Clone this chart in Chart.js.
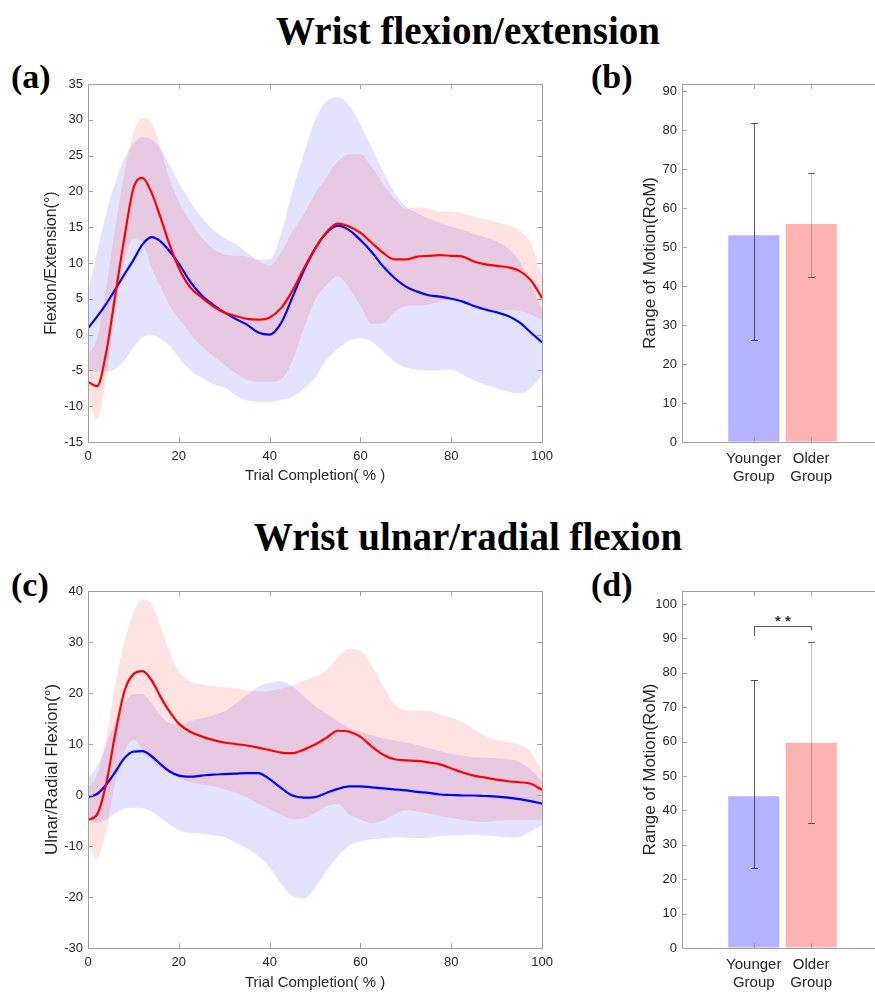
<!DOCTYPE html>
<html>
<head>
<meta charset="utf-8">
<script src="https://cdn.jsdelivr.net/npm/chart.js@4.4.1/dist/chart.umd.min.js"></script>
<style>
  body { margin: 0; background: #fff; overflow: hidden; }
  #page { position: relative; width: 875px; height: 992px; overflow: hidden; background: #fff; }
  canvas { position: absolute; }
  .title { position: absolute; left: 0; width: 936px; text-align: center; line-height: 1;
           font: bold 39px "Liberation Serif", "Times New Roman", serif; color: #000; }
  .lab { position: absolute; line-height: 1; font: bold 34px "Liberation Serif", "Times New Roman", serif; color: #000; }
</style>
</head>
<body>
<div id="page">
  <div class="title" style="top:8px">Wrist flexion/extension</div>
  <div class="title" style="top:514px">Wrist ulnar/radial flexion</div>
  <div class="lab" style="left:11px;top:58px">(a)</div>
  <div class="lab" style="left:591px;top:58px">(b)</div>
  <div class="lab" style="left:11px;top:566px">(c)</div>
  <div class="lab" style="left:591px;top:566px">(d)</div>
  <canvas id="chartA" width="560" height="430" style="left:0;top:60px"></canvas>
  <canvas id="chartB" width="310" height="430" style="left:580px;top:60px"></canvas>
  <canvas id="chartC" width="560" height="432" style="left:0;top:560px"></canvas>
  <canvas id="chartD" width="310" height="432" style="left:580px;top:560px"></canvas>
</div>
<script>
// trial completion (%) sample positions shared by every curve
const T = [0, 2, 4, 6, 8, 10, 12, 14, 16, 18, 20, 22.5, 25, 27.5, 30, 32.5, 35, 37.5, 40, 42.5, 45, 47.5,
  50, 52.5, 55, 57.5, 60, 62.5, 65, 67.5, 70, 72.5, 75, 77.5, 80, 82.5, 85, 87.5, 90, 92.5, 95, 97.5, 100];

// (a) flexion/extension
const flexYoungMean = [0.9, 2.5, 4.3, 6.3, 8.4, 10.4, 12.6, 13.6, 13.0, 11.6, 9.9, 7.4, 5.5, 4.2, 3.1, 2.2, 1.4, 0.3, 0.0, 1.6, 5.2, 8.9,
  12.0, 14.2, 15.2, 14.6, 13.2, 11.5, 9.5, 7.9, 6.7, 6.0, 5.5, 5.3, 5.0, 4.6, 4.0, 3.5, 3.1, 2.6, 1.7, 0.3, -1.1];
const flexOldMean = [-6.6, -7.2, -2.5, 5.5, 13.5, 20.4, 21.9, 19.8, 16.3, 12.5, 9.3, 6.6, 5.2, 4.0, 3.1, 2.6, 2.2, 2.1, 2.4, 3.7, 6.1, 9.2,
  12.0, 14.3, 15.5, 15.1, 14.2, 12.8, 11.4, 10.5, 10.5, 10.9, 11.0, 11.1, 11.0, 10.9, 10.2, 9.8, 9.6, 9.4, 8.9, 7.6, 5.1];
const flexYoungUp = [6.0, 11.5, 17.0, 21.2, 24.6, 26.7, 27.6, 27.2, 26.0, 23.6, 21.2, 18.6, 16.4, 14.7, 13.5, 12.7, 11.5, 10.5, 10.5, 14.1, 20.0, 25.2,
  30.0, 32.6, 33.2, 32.0, 29.3, 26.1, 22.8, 19.8, 17.9, 17.0, 16.2, 15.6, 15.1, 14.6, 14.1, 13.6, 13.0, 12.0, 10.3, 7.0, 3.5];
const flexYoungLo = [-5.0, -5.2, -5.2, -4.8, -3.6, -1.8, -0.4, -0.1, -0.6, -1.6, -3.2, -5.0, -6.0, -6.9, -7.4, -8.5, -9.2, -9.4, -9.4, -9.1, -8.7, -7.6,
  -6.0, -3.5, -2.0, -0.9, -0.5, -1.0, -2.4, -3.8, -4.6, -4.9, -5.0, -5.0, -4.9, -5.6, -6.4, -7.0, -7.5, -8.0, -8.2, -7.5, -5.6];
const flexOldUp = [-2.8, -0.5, 6.5, 15.0, 22.5, 28.2, 30.3, 29.6, 26.0, 21.6, 18.6, 15.8, 13.6, 12.0, 11.2, 11.0, 10.9, 10.3, 9.6, 11.5, 14.4, 16.8,
  19.7, 22.0, 24.2, 25.2, 25.2, 23.4, 21.0, 19.0, 17.6, 17.8, 17.6, 17.2, 17.2, 16.9, 16.5, 16.1, 15.7, 15.3, 14.6, 12.8, 8.1];
const flexOldLo = [-9.2, -11.8, -6.0, 3.5, 10.3, 13.3, 12.8, 9.3, 6.6, 4.0, 2.2, 0.1, -1.6, -3.0, -4.2, -5.4, -6.3, -6.6, -6.6, -6.3, -3.7, 0.8,
  4.8, 6.9, 8.1, 6.5, 4.0, 1.5, 1.6, 3.2, 4.0, 4.1, 4.2, 4.6, 5.0, 4.5, 3.8, 3.5, 3.4, 3.4, 3.3, 2.8, 2.0];

// (c) ulnar/radial flexion
const ulnYoungMean = [-0.4, 0.2, 2.0, 4.5, 7.2, 8.5, 8.6, 7.6, 6.0, 4.6, 3.8, 3.6, 3.8, 4.0, 4.1, 4.2, 4.3, 4.3, 3.1, 1.4, -0.1, -0.5,
  -0.4, 0.4, 1.2, 1.7, 1.7, 1.5, 1.3, 1.1, 0.9, 0.6, 0.4, 0.1, 0.0, -0.1, -0.1, -0.2, -0.3, -0.5, -0.8, -1.2, -1.7];
const ulnOldMean = [-4.9, -3.8, 2.2, 12.0, 20.3, 23.7, 24.3, 22.5, 19.2, 16.3, 14.0, 12.4, 11.5, 10.8, 10.3, 10.0, 9.7, 9.3, 8.8, 8.3, 8.2, 8.9,
  9.9, 11.2, 12.6, 12.4, 11.4, 9.5, 7.9, 7.0, 6.8, 6.7, 6.4, 6.0, 5.2, 4.4, 3.8, 3.4, 3.0, 2.7, 2.5, 2.2, 1.0];
const ulnYoungUp = [3.3, 5.7, 9.8, 14.5, 18.0, 19.8, 19.8, 18.0, 15.6, 14.0, 13.8, 14.5, 15.0, 15.6, 16.4, 17.9, 19.6, 21.2, 22.0, 22.3, 21.3, 19.4,
  17.4, 16.0, 14.5, 13.1, 12.4, 11.7, 11.1, 10.7, 10.3, 9.8, 9.2, 8.6, 8.1, 7.7, 7.4, 7.3, 7.2, 7.0, 6.5, 5.0, 2.6];
const ulnYoungLo = [-4.6, -5.5, -4.9, -3.6, -2.7, -2.5, -2.6, -3.3, -4.5, -5.8, -6.9, -7.4, -7.6, -7.9, -8.3, -9.4, -10.5, -12.0, -14.2, -17.4, -19.8, -20.3,
  -18.2, -14.9, -12.1, -9.9, -9.1, -8.7, -8.5, -8.3, -8.4, -8.5, -8.4, -8.1, -8.0, -7.9, -7.8, -7.9, -8.1, -8.4, -8.3, -7.1, -5.9];
const ulnOldUp = [1.5, 4.0, 11.0, 21.8, 30.0, 35.8, 38.4, 37.4, 33.0, 28.0, 24.3, 22.3, 21.7, 21.3, 21.1, 20.9, 20.6, 20.3, 20.4, 20.9, 21.5, 22.4,
  23.2, 24.4, 27.0, 28.7, 28.3, 25.3, 21.3, 17.8, 16.6, 16.5, 16.5, 15.8, 15.2, 14.2, 12.9, 11.6, 10.8, 10.3, 9.9, 8.5, 4.6];
const ulnOldLo = [-10.0, -12.5, -7.0, 2.5, 8.5, 10.8, 9.0, 6.8, 5.3, 4.2, 3.3, 2.5, 2.0, 1.7, 1.2, 0.5, -0.5, -1.7, -2.8, -3.9, -4.7, -4.6,
  -3.5, -2.2, -1.8, -3.8, -4.8, -5.5, -5.0, -3.8, -3.0, -3.2, -3.7, -4.1, -4.5, -4.9, -5.2, -5.3, -5.0, -4.9, -4.9, -4.9, -4.9];

// tick labels
const trialTicks = [0, 20, 40, 60, 80, 100];
const flexTicks = [-15, -10, -5, 0, 5, 10, 15, 20, 25, 30, 35];
const ulnTicks = [-30, -20, -10, 0, 10, 20, 30, 40];
const romTicksB = [0, 10, 20, 30, 40, 50, 60, 70, 80, 90];
const romTicksD = [0, 10, 20, 30, 40, 50, 60, 70, 80, 90, 100];

// (b) and (d) range of motion, mean with lower / upper error bar ends
const groups = [['Younger', 'Group'], ['Older', 'Group']];
const flexRom = [53.0, 55.9];
const flexRomLo = [26.2, 42.2];
const flexRomHi = [81.7, 69.1];
const ulnRom = [44.1, 59.7];
const ulnRomLo = [23.4, 36.4];
const ulnRomHi = [77.9, 88.9];
// significance bracket in (d): bar level, left / right leg ends, star level
const sigLevels = [93.7, 90.7, 92.4, 95.8];
const sigText = '* *';

const FONT = '"Liberation Sans", Arial, Helvetica, sans-serif';
const TXT = '#262626';
const AXIS = '#a0a0a0';

// matlab style box with inward ticks
const boxPlugin = {
  id: 'box',
  afterDatasetsDraw(chart) {
    const { ctx, chartArea: a, scales: { x, y } } = chart;
    ctx.save();
    ctx.strokeStyle = AXIS;
    ctx.lineWidth = 1;
    ctx.strokeRect(Math.round(a.left) + 0.5, Math.round(a.top) + 0.5, Math.round(a.right - a.left), Math.round(a.bottom - a.top));
    ctx.beginPath();
    x.ticks.forEach(t => {
      const px = Math.round(x.getPixelForValue(t.value)) + 0.5;
      ctx.moveTo(px, a.bottom); ctx.lineTo(px, a.bottom - 5);
      ctx.moveTo(px, a.top); ctx.lineTo(px, a.top + 5);
    });
    y.ticks.forEach(t => {
      const py = Math.round(y.getPixelForValue(t.value)) + 0.5;
      ctx.moveTo(a.left, py); ctx.lineTo(a.left + 5, py);
      ctx.moveTo(a.right, py); ctx.lineTo(a.right - 5, py);
    });
    ctx.stroke();
    ctx.restore();
  }
};

function tickList(arr) {
  return s => { s.ticks = arr.map(v => ({ value: v })); };
}

function bandChart(id, yM, oM, yUp, yLo, oUp, oLo, yTicks, yTitle, yTitleSize, pad, xH, xTitlePad) {
  const pts = arr => T.map((t, i) => ({ x: t, y: arr[i] }));
  const line = (arr, color) => ({
    data: pts(arr), borderColor: color, borderWidth: 2.2, pointRadius: 0, fill: false,
    cubicInterpolationMode: 'monotone'
  });
  const band = (arr, color, target) => ({
    data: pts(arr), borderWidth: 0, borderColor: 'transparent', pointRadius: 0,
    backgroundColor: color, fill: target, cubicInterpolationMode: 'monotone'
  });
  new Chart(document.getElementById(id), {
    type: 'line',
    data: {
      datasets: [
        line(oM, '#ff0000'),
        line(yM, '#0000ff'),
        band(oUp, 'rgba(255, 0, 0, 0.115)', 3),
        band(oLo, 'transparent', false),
        band(yUp, 'rgba(0, 0, 255, 0.11)', 5),
        band(yLo, 'transparent', false)
      ]
    },
    options: {
      responsive: false,
      animation: false,
      layout: { padding: pad },
      plugins: { legend: { display: false }, tooltip: { enabled: false } },
      scales: {
        x: {
          type: 'linear', min: 0, max: 100,
          afterBuildTicks: tickList(trialTicks),
          afterFit: s => { s.height = xH; },
          grid: { drawOnChartArea: false, drawTicks: false },
          border: { display: false },
          ticks: { padding: 7, color: TXT, font: { family: FONT, size: 13 } },
          title: { display: true, text: 'Trial Completion( % )', color: TXT, font: { family: FONT, size: 15 }, padding: { top: 0, bottom: xTitlePad } }
        },
        y: {
          min: yTicks[0], max: yTicks[yTicks.length - 1],
          afterBuildTicks: tickList(yTicks),
          afterFit: s => { s.width = 88; },
          grid: { drawOnChartArea: false, drawTicks: false },
          border: { display: false },
          ticks: { padding: 5, color: TXT, font: { family: FONT, size: 13 } },
          title: { display: true, text: yTitle, color: TXT, font: { family: FONT, size: yTitleSize }, padding: { top: 52 - yTitleSize * 0.6, bottom: 0 } }
        }
      }
    },
    plugins: [boxPlugin]
  });
}

function romChart(id, means, lo, hi, yTicks, yMax, pad, xH, sig) {
  const errPlugin = {
    id: 'err',
    afterDatasetsDraw(chart) {
      const { ctx, scales: { x, y } } = chart;
      ctx.save();
      ctx.lineWidth = 1;
      means.forEach((m, i) => {
        const px = Math.round(x.getPixelForValue(i + 1)) + 0.5;
        const pl = Math.round(y.getPixelForValue(lo[i])) + 0.5;
        const ph = Math.round(y.getPixelForValue(hi[i])) + 0.5;
        ctx.strokeStyle = i === 0 ? 'rgba(40, 40, 40, 0.75)' : 'rgba(40, 40, 40, 0.28)';
        ctx.beginPath(); ctx.moveTo(px, pl); ctx.lineTo(px, ph); ctx.stroke();
        ctx.strokeStyle = i === 0 ? 'rgba(40, 40, 40, 0.8)' : 'rgba(40, 40, 40, 0.7)';
        ctx.beginPath();
        ctx.moveTo(px - 3.5, pl); ctx.lineTo(px + 3.5, pl);
        ctx.moveTo(px - 3.5, ph); ctx.lineTo(px + 3.5, ph);
        ctx.stroke();
      });
      if (sig) {
        const x1 = Math.round(x.getPixelForValue(1)) + 0.5;
        const x2 = Math.round(x.getPixelForValue(2)) + 0.5;
        const yb = Math.round(y.getPixelForValue(sig[0])) + 0.5;
        ctx.strokeStyle = '#555';
        ctx.beginPath();
        ctx.moveTo(x1, y.getPixelForValue(sig[1])); ctx.lineTo(x1, yb);
        ctx.lineTo(x2, yb); ctx.lineTo(x2, y.getPixelForValue(sig[2]));
        ctx.stroke();
        ctx.fillStyle = '#333';
        ctx.font = 'bold 15px ' + FONT;
        ctx.textAlign = 'center';
        ctx.textBaseline = 'middle';
        ctx.fillText(sigText, (x1 + x2) / 2, y.getPixelForValue(sig[3]) + 3);
      }
      ctx.restore();
    }
  };
  new Chart(document.getElementById(id), {
    type: 'bar',
    data: {
      datasets: [{
        data: means.map((m, i) => ({ x: i + 1, y: m })),
        backgroundColor: ['rgba(178, 178, 255, 1)', 'rgba(255, 178, 178, 1)'],
        borderWidth: 0,
        barPercentage: 0.89,
        categoryPercentage: 1
      }]
    },
    options: {
      responsive: false,
      animation: false,
      layout: { padding: pad },
      plugins: { legend: { display: false }, tooltip: { enabled: false } },
      scales: {
        x: {
          type: 'linear', min: -0.25, max: 3.25, offset: false,
          afterBuildTicks: s => { s.ticks = groups.map((g, i) => ({ value: i + 1 })); },
          afterFit: s => { s.height = xH; },
          grid: { drawOnChartArea: false, drawTicks: false },
          border: { display: false },
          ticks: {
            padding: 8, color: TXT, font: { family: FONT, size: 15, lineHeight: 1.2 },
            callback: (v, i) => groups[i]
          }
        },
        y: {
          min: 0, max: yMax,
          afterBuildTicks: tickList(yTicks),
          afterFit: s => { s.width = 102; },
          grid: { drawOnChartArea: false, drawTicks: false },
          border: { display: false },
          ticks: { padding: 5, color: TXT, font: { family: FONT, size: 13 } },
          title: { display: true, text: 'Range of Motion(RoM)', color: TXT, font: { family: FONT, size: 17 }, padding: { top: 60, bottom: 0 } }
        }
      }
    },
    plugins: [boxPlugin, errPlugin]
  });
}

bandChart('chartA', flexYoungMean, flexOldMean, flexYoungUp, flexYoungLo, flexOldUp, flexOldLo,
  flexTicks, 'Flexion/Extension(°)', 16, { left: 0, top: 24, right: 9, bottom: 0 }, 48, 5);
bandChart('chartC', ulnYoungMean, ulnOldMean, ulnYoungUp, ulnYoungLo, ulnOldUp, ulnOldLo,
  ulnTicks, 'Ulnar/Radial Flexion(°)', 17, { left: 0, top: 31, right: 9, bottom: 0 }, 44, 0);
romChart('chartB', flexRom, flexRomLo, flexRomHi, romTicksB, 91.8, { left: 0, top: 24, right: 7, bottom: 0 }, 48, null);
romChart('chartD', ulnRom, ulnRomLo, ulnRomHi, romTicksD, 103.8, { left: 0, top: 31, right: 7, bottom: 0 }, 44, sigLevels);
</script>
</body>
</html>
